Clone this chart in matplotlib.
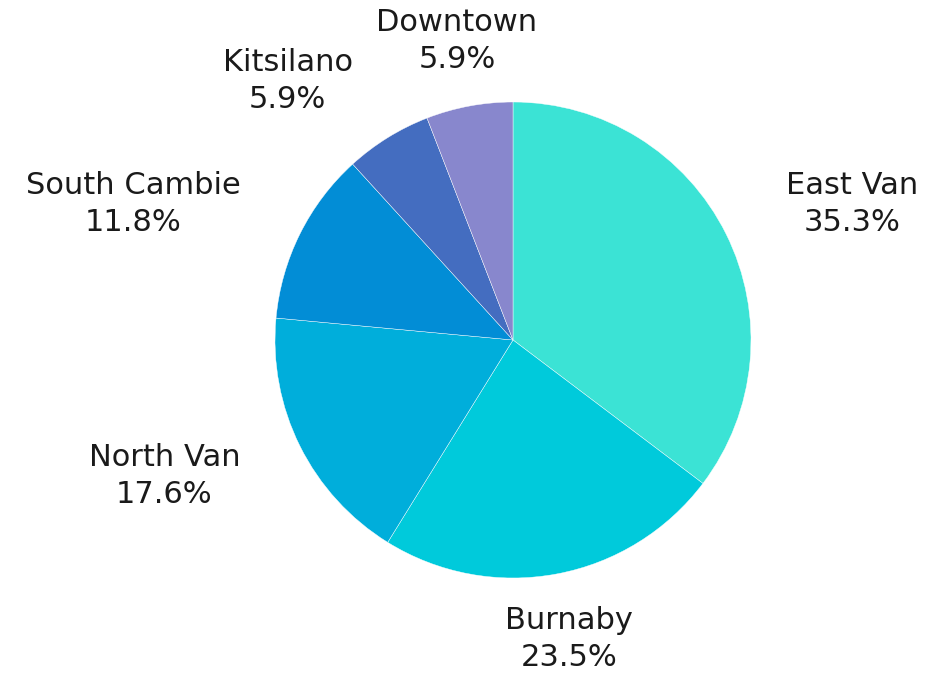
import numpy as np
import matplotlib.pyplot as plt

areas = ["East Van", "Burnaby", "North Van", "South Cambie", "Kitsilano", "Downtown"]
counts = [6, 4, 3, 2, 1, 1]
colors = ["#3be3d5", "#00cadb", "#00aedb", "#028dd6", "#446dc0", "#8887cd"]

W, H = 929, 682
cx, cy, r = 513, 340, 238

fig = plt.figure(figsize=(W / 100, H / 100), dpi=100)
ax = fig.add_axes([(cx - r) / W, (H - cy - r) / H, 2 * r / W, 2 * r / H])

wedges, _ = ax.pie(counts, colors=colors, startangle=90, counterclock=False,
                   radius=1, wedgeprops=dict(linewidth=0.3, edgecolor="white"))
ax.set_xlim(-1, 1)
ax.set_ylim(-1, 1)
ax.set_aspect("equal")
ax.axis("off")

total = sum(counts)
for w, name, c in zip(wedges, areas, counts):
    ang = np.deg2rad((w.theta1 + w.theta2) / 2)
    x, y = 1.28 * np.cos(ang), 1.28 * np.sin(ang)
    if abs(np.cos(ang)) < 0.3:
        ha = "center"
    elif x > 0:
        ha = "left"
    else:
        ha = "right"
    ax.text(x, y, f"{name}\n{100 * c / total:.1f}%", ha=ha, va="center",
            multialignment="center", fontsize=22, color="#1a1a1a",
            family="DejaVu Sans", linespacing=1.35, clip_on=False)

fig.savefig("out.png", dpi=100)
